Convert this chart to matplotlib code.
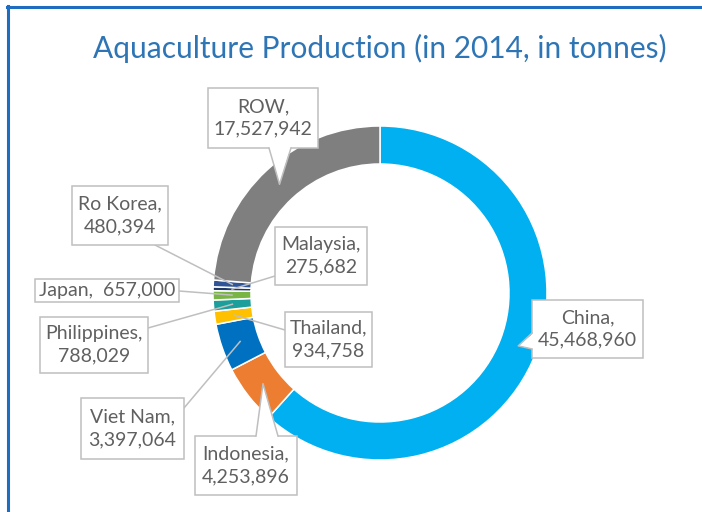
import numpy as np
import matplotlib
matplotlib.use('Agg')
import matplotlib.pyplot as plt
from matplotlib.patches import Rectangle, Polygon
from matplotlib.lines import Line2D

# данные
countries = ['China', 'Indonesia', 'Viet Nam', 'Thailand', 'Philippines',
             'Japan', 'Malaysia', 'Ro Korea', 'ROW']
tonnes = [45468960, 4253896, 3397064, 934758, 788029, 657000, 275682, 480394, 17527942]
colors = ['#00B0F0', '#ED7D31', '#0070C0', '#FFC000', '#1C9E9B',
          '#78B545', '#1F3864', '#2F5597', '#7F7F7F']
title = 'Aquaculture Production (in 2014, in tonnes)'

W, H = 702, 512
CX, CY = 380, 293      # центр кольца (пиксели, y вниз)
R_OUT, R_W = 167, 38
R_MID = R_OUT - R_W / 2

GRAY_EDGE = '#BFBFBF'
TXT = '#606060'
FONT = 'Lato'

# размещение подписей: рамка (x0, y0, x1, y1) в пикселях, тип выноски, точка старта линии
layout = {
    'China':       ((532, 300, 643, 358), 'left', (333, 349)),
    'Indonesia':   ((195, 436, 297, 495), 'top', (256, 278)),
    'Viet Nam':    ((81, 398, 184, 459), 'line', (184, 408)),
    'Thailand':    ((285, 312, 372, 367), 'line', (285, 330)),
    'Philippines': ((40, 317, 148, 373), 'line', (148, 328)),
    'Japan':       ((35, 279, 179, 302), 'line', (179, 291)),
    'Malaysia':    ((275, 227, 367, 285), 'line', (275, 276)),
    'Ro Korea':    ((72, 186, 168, 245), 'line', (155, 245)),
    'ROW':         ((208, 88, 318, 148), 'bottom', (269, 291)),
}


def P(x, y):
    return x, H - y


def mid_point(i):
    total = float(sum(tonnes))
    start = sum(tonnes[:i]) / total * 360
    ang = np.radians(start + tonnes[i] / total * 180)
    return CX + R_MID * np.sin(ang), CY - R_MID * np.cos(ang)


fig = plt.figure(figsize=(W / 100, H / 100), dpi=100)
ax = fig.add_axes([0, 0, 1, 1])

ax.pie(tonnes, colors=colors, radius=R_OUT, center=P(CX, CY), startangle=90,
       counterclock=False,
       wedgeprops=dict(width=R_W, edgecolor='white', linewidth=1.1))
ax.set_xlim(0, W)
ax.set_ylim(0, H)
ax.set_aspect('equal')
ax.axis('off')

for i, name in enumerate(countries):
    (x0, y0, x1, y1), kind, base = layout[name]
    if name == 'Japan':
        label = 'Japan,  657,000'
    else:
        label = '%s,\n%s' % (name, format(tonnes[i], ','))
    tx, ty = mid_point(i)

    ax.add_patch(Rectangle(P(x0, y1), x1 - x0, y1 - y0, fc='white',
                           ec=GRAY_EDGE, lw=1.1, zorder=5))
    ax.text(*P((x0 + x1) / 2, (y0 + y1) / 2), label, ha='center', va='center',
            fontsize=14, color=TXT, family=FONT, linespacing=1.4, zorder=8)

    if kind == 'line':
        sx, sy = base
        ax.add_line(Line2D([sx, tx], [H - sy, H - ty], color=GRAY_EDGE,
                           lw=1.1, zorder=4))
    else:
        a, b = base
        if kind == 'left':
            b1, b2 = (x0, a), (x0, b)
            c1, c2 = (x0 + 1.5, a), (x0 + 1.5, b)
        elif kind == 'top':
            b1, b2 = (a, y0), (b, y0)
            c1, c2 = (a, y0 + 1.5), (b, y0 + 1.5)
        else:
            b1, b2 = (a, y1), (b, y1)
            c1, c2 = (a, y1 - 1.5), (b, y1 - 1.5)
        ax.add_patch(Polygon([P(*c1), P(tx, ty), P(*c2)], closed=True,
                             fc='white', ec='none', zorder=6))
        ax.add_line(Line2D([b1[0], tx, b2[0]], [H - b1[1], H - ty, H - b2[1]],
                           color=GRAY_EDGE, lw=1.1, zorder=7))

# заголовок
ax.text(*P(380, 48), title, ha='center', va='center', fontsize=21.5,
        color='#2E75B6', family=FONT)

# синяя рамка слева и сверху
fig.add_artist(Line2D([8 / W, 8 / W], [0, 1 - 6 / H], color='#1F6CC0',
                      lw=2.2, transform=fig.transFigure))
fig.add_artist(Line2D([7 / W, 701 / W], [1 - 7 / H, 1 - 7 / H], color='#1F6CC0',
                      lw=2.2, transform=fig.transFigure))

fig.savefig('out.png', dpi=100)
